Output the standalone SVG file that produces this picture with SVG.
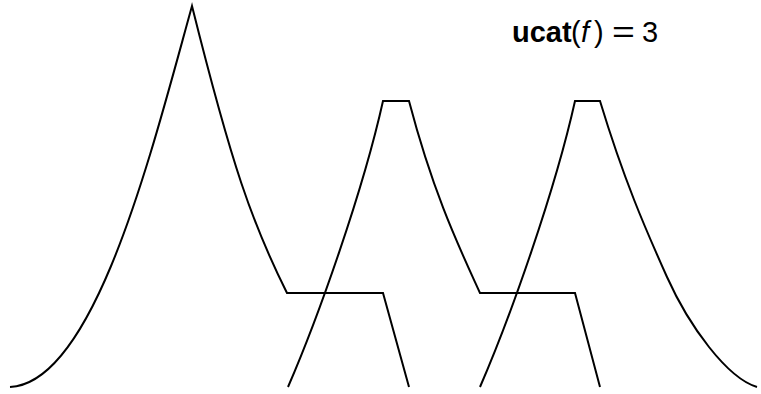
<svg xmlns="http://www.w3.org/2000/svg" width="761" height="394" viewBox="0 0 761 394">
<style>
.c{fill:none;stroke:#000;stroke-width:2;stroke-linejoin:miter;stroke-linecap:butt}
.t{font-family:"Liberation Sans",Arial,sans-serif;font-size:29px;fill:#000}
</style>
<rect width="761" height="394" fill="#fff"/>
<g id="curve1">
<path class="c" d="M10,387 C95,383 152,150 192,6 C232,166 252,223 287,293 L383,293 L409,387"/>
</g>
<g id="curve2">
<path class="c" d="M288,387 C318,318 363,191 383,101 L409,101 C434,196 460,249 480,293 L575,293 L600,387"/>
</g>
<g id="curve3">
<path class="c" d="M480,387 C510,318 555,191 575,101 L600,101 C624,180 645,228 667,277 C689,326 727,378 757,387"/>
</g>
<g id="label">
<text class="t" y="42"><tspan x="512" font-weight="bold">ucat</tspan><tspan x="571">(</tspan><tspan x="581" font-style="italic">f</tspan><tspan x="594">)</tspan></text>
<text class="t" transform="translate(612,42) scale(1.35,1)" font-family="DejaVu Sans, sans-serif">=</text>
<text class="t" y="42" x="642">3</text>
</g>
</svg>
